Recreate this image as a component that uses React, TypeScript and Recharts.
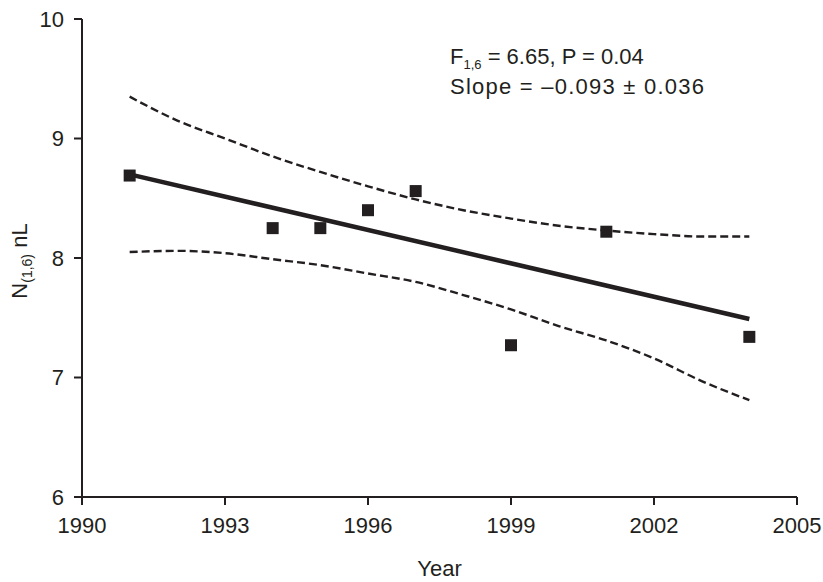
import React from "react";
import {
  ComposedChart,
  Line,
  Scatter,
  XAxis,
  YAxis,
  Customized,
} from "recharts";

const years = [1991, 1994, 1995, 1996, 1997, 1999, 2001, 2004];
const nValues = [8.69, 8.25, 8.25, 8.4, 8.56, 7.27, 8.22, 7.34];

const fitYears = [1991, 2004];
const fitValues = [8.7, 7.49];

const bandYears = [1991, 1992, 1993, 1994, 1995, 1996, 1997, 1998, 1999, 2000, 2001, 2002, 2003, 2004];
const upperBand = [9.35, 9.15, 9.0, 8.85, 8.72, 8.6, 8.49, 8.4, 8.33, 8.27, 8.23, 8.2, 8.18, 8.18];
const lowerBand = [8.05, 8.06, 8.04, 7.99, 7.94, 7.87, 7.8, 7.69, 7.57, 7.43, 7.31, 7.16, 6.97, 6.81];

const xTicks = [1990, 1993, 1996, 1999, 2002, 2005];
const yTicks = [6, 7, 8, 9, 10];

const INK = "#231f20";
const FONT = "'Liberation Sans', Arial, sans-serif";

const points = years.map((year, i) => ({ year, n: nValues[i] }));
const fit = fitYears.map((year, i) => ({ year, n: fitValues[i] }));
const upper = bandYears.map((year, i) => ({ year, n: upperBand[i] }));
const lower = bandYears.map((year, i) => ({ year, n: lowerBand[i] }));

const Square = (props: any) => (
  <rect x={props.cx - 6} y={props.cy - 6} width={12} height={12} fill={INK} />
);

const Notes = () => (
  <g fontFamily={FONT} fill={INK}>
    <text x={450} y={64} fontSize={22}>
      F<tspan fontSize={13} dy={5}>1,6</tspan>
      <tspan dy={-5}> = 6.65, P = 0.04</tspan>
    </text>
    <text x={450} y={94} fontSize={22} textLength={254} lengthAdjust="spacing">
      Slope = –0.093 ± 0.036
    </text>
    <text x={27} y={261} fontSize={22} textAnchor="middle" transform="rotate(-90, 27, 261)">
      N<tspan fontSize={14} dy={5}>(1,6)</tspan>
      <tspan dy={-5}> nL</tspan>
    </text>
  </g>
);

export default function App() {
  const tick = { fill: INK, fontSize: 22, fontFamily: FONT };
  return (
    <div style={{ position: "absolute", left: 0, top: 0, background: "#fff" }}>
      <style>{"body{margin:0}"}</style>
      <ComposedChart width={823} height={582} margin={{ top: 19, right: 26, bottom: 0, left: 0 }}>
        <XAxis
          type="number"
          dataKey="year"
          domain={[1990, 2005]}
          ticks={xTicks}
          height={85}
          tick={tick}
          tickSize={8}
          tickMargin={12}
          axisLine={{ stroke: INK, strokeWidth: 2 }}
          tickLine={{ stroke: INK, strokeWidth: 2 }}
          label={{ value: "Year", position: "insideBottom", offset: 6, fill: INK, fontSize: 22, fontFamily: FONT }}
        />
        <YAxis
          type="number"
          dataKey="n"
          domain={[6, 10]}
          ticks={yTicks}
          width={82}
          tick={tick}
          tickSize={8}
          tickMargin={10}
          axisLine={{ stroke: INK, strokeWidth: 2 }}
          tickLine={{ stroke: INK, strokeWidth: 2 }}
        />
        <Line data={upper} dataKey="n" type="monotone" stroke={INK} strokeWidth={2.4} strokeDasharray="8 4" dot={false} isAnimationActive={false} />
        <Line data={lower} dataKey="n" type="monotone" stroke={INK} strokeWidth={2.4} strokeDasharray="8 4" dot={false} isAnimationActive={false} />
        <Line data={fit} dataKey="n" type="linear" stroke={INK} strokeWidth={4.5} dot={false} isAnimationActive={false} />
        <Scatter data={points} dataKey="n" shape={Square} isAnimationActive={false} />
        <Customized component={Notes} />
      </ComposedChart>
    </div>
  );
}
